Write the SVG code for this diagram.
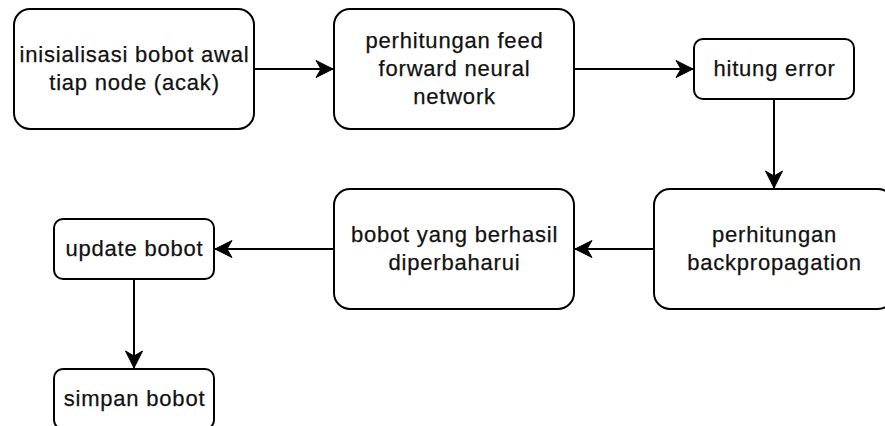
<svg xmlns="http://www.w3.org/2000/svg" width="885" height="426" viewBox="0 0 885 426">
<style>
.box{fill:#fff;stroke:#000;stroke-width:2}
.t{font-family:"Liberation Sans",Arial,sans-serif;font-size:22px;letter-spacing:0.8px;fill:#111;stroke:#111;stroke-width:0.25;text-anchor:middle}
.c{fill:none;stroke:#000;stroke-width:2}
</style>
<defs>
<marker id="ah" markerUnits="userSpaceOnUse" viewBox="-18 -10 19 20" markerWidth="19" markerHeight="20" refX="0" refY="0" orient="auto">
<path d="M0,0 L-17,-8.5 L-12,0 L-17,8.5 Z" fill="#000" stroke="#000" stroke-width="1" stroke-linejoin="miter"/>
</marker>
</defs>
<rect x="0" y="0" width="885" height="426" fill="#fff"/>
<g id="connectors">
<path class="c" d="M254,69 L333,69" marker-end="url(#ah)"/>
<path class="c" d="M574,69 L693,69" marker-end="url(#ah)"/>
<path class="c" d="M774,99 L774,188" marker-end="url(#ah)"/>
<path class="c" d="M654,249 L575,249" marker-end="url(#ah)"/>
<path class="c" d="M334,249 L215,249" marker-end="url(#ah)"/>
<path class="c" d="M134,279 L134,368" marker-end="url(#ah)"/>
</g>
<g id="n1">
<rect class="box" x="14" y="9" width="240" height="120" rx="16"/>
<text class="t" x="134.5" y="62">inisialisasi bobot awal</text>
<text class="t" x="134.5" y="90">tiap node (acak)</text>
</g>
<g id="n2">
<rect class="box" x="334" y="9" width="240" height="120" rx="16"/>
<text class="t" x="454.5" y="48">perhitungan feed</text>
<text class="t" x="454.5" y="76">forward neural</text>
<text class="t" x="454.5" y="104">network</text>
</g>
<g id="n3">
<rect class="box" x="694" y="39" width="160" height="60" rx="9"/>
<text class="t" x="774.5" y="76">hitung error</text>
</g>
<g id="n4">
<rect class="box" x="654" y="189" width="240" height="120" rx="16"/>
<text class="t" x="774.5" y="242">perhitungan</text>
<text class="t" x="774.5" y="270">backpropagation</text>
</g>
<g id="n5">
<rect class="box" x="334" y="189" width="240" height="120" rx="16"/>
<text class="t" x="454.5" y="242">bobot yang berhasil</text>
<text class="t" x="454.5" y="270">diperbaharui</text>
</g>
<g id="n6">
<rect class="box" x="54" y="219" width="160" height="60" rx="9"/>
<text class="t" x="134.5" y="256">update bobot</text>
</g>
<g id="n7">
<rect class="box" x="54" y="369" width="160" height="60" rx="9"/>
<text class="t" x="134.5" y="406">simpan bobot</text>
</g>
</svg>
